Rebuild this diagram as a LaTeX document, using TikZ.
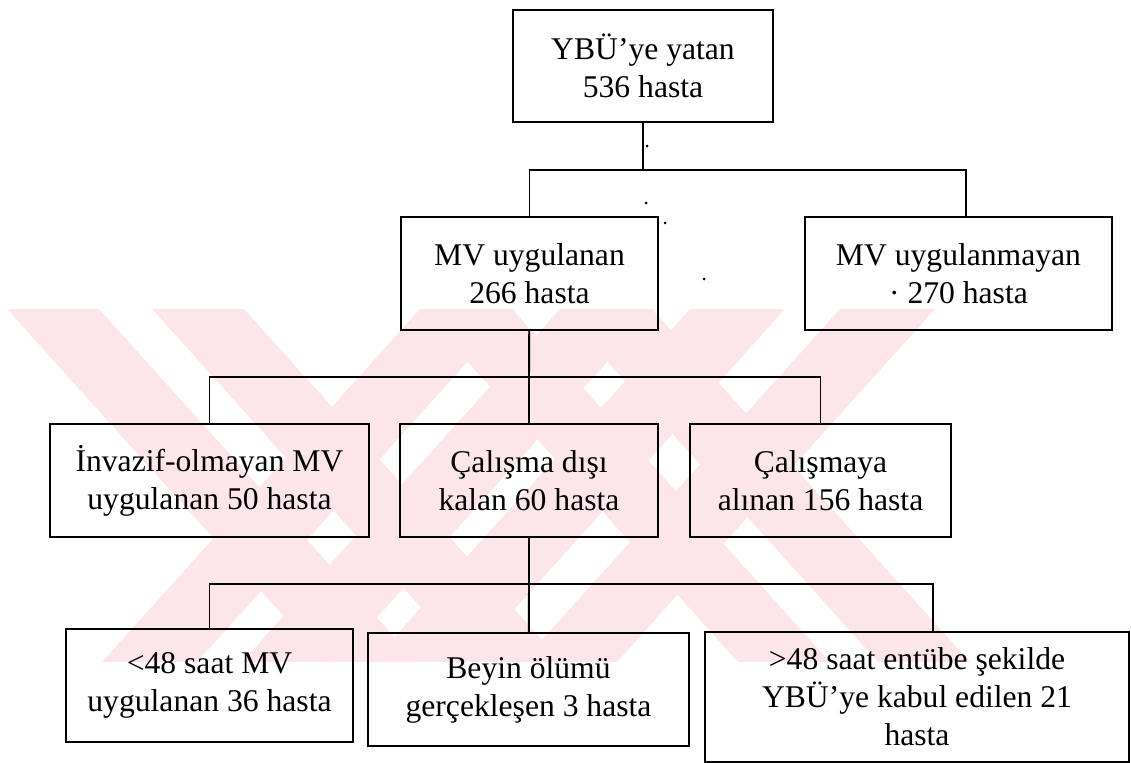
\documentclass[tikz,border=0pt]{standalone}
\usepackage{fontspec}
\setmainfont{Liberation Serif}
\definecolor{filigran}{RGB}{253,230,234}
\begin{document}
\begin{tikzpicture}[x=0.02cm,y=-0.02cm,
    kutu/.style={draw,line width=1.2pt,align=center,inner sep=0pt,minimum height=2.26cm,font=\fontsize{18}{21.6}\selectfont},
    hat/.style={line width=1.1pt}]
    \useasboundingbox (0,0) rectangle (1131,763);
    \begin{scope}
    \clip (0,309) rectangle (1131,662);
    \foreach \a in {7,152,420,560}
        \fill[filigran] (\a,309)--(\a+92,309)--(\a+410,662)--(\a+318,662)--cycle;
    \foreach \a in {420,560,690,840}
        \fill[filigran] (\a,309)--(\a+95,309)--(\a-223,662)--(\a-318,662)--cycle;
    \end{scope}
    \node[kutu,minimum width=5.2cm,minimum height=2.24cm](yatan) at (643,66) {YBÜ’ye yatan\\536 hasta};
    \node[kutu,minimum width=5.14cm](mvu) at (529.5,273.5) {MV uygulanan\\266 hasta};
    \node[kutu,minimum width=6.14cm](mvn) at (958.5,273.5) {MV uygulanmayan\\· 270 hasta};
    \node[kutu,minimum width=6.38cm](inv) at (209.5,480.5) {İnvazif-olmayan MV\\uygulanan 50 hasta};
    \node[kutu,minimum width=5.16cm](disi) at (529,480.5) {Çalışma dışı\\kalan 60 hasta};
    \node[kutu,minimum width=5.22cm](alinan) at (820.5,480.5) {Çalışmaya\\alınan 156 hasta};
    \node[kutu,minimum width=5.74cm](kisa) at (209.5,685.5) {<48 saat MV\\uygulanan 36 hasta};
    \node[kutu,minimum width=6.42cm](beyin) at (528.5,689.5) {Beyin ölümü\\gerçekleşen 3 hasta};
    \node[kutu,minimum width=8.48cm,minimum height=2.6cm](uzun) at (917,697) {>48 saat entübe şekilde\\YBÜ’ye kabul edilen 21\\hasta};
    \coordinate (d1) at (643,170);
    \coordinate (d2) at (529,377);
    \coordinate (d3) at (529,584);
    \draw[hat] (yatan) -- (d1);
    \draw[hat] (mvu.north) |- (d1) -| ([xshift=0.15cm]mvn.north);
    \draw[hat] (mvu) -- (d2);
    \draw[hat] (inv.north) |- (d2) -| (alinan.north);
    \draw[hat] (d2) -- (disi);
    \draw[hat] (disi) -- (d3);
    \draw[hat] (kisa.north) |- (d3) -| ([xshift=0.32cm]uzun.north);
    \draw[hat] (d3) -- (beyin);
    \fill (647,146) circle (1.5);
    \fill (646,203) circle (1.5);
    \fill (665,223) circle (1.5);
    \fill (704,279) circle (1.5);
\end{tikzpicture}
\end{document}
